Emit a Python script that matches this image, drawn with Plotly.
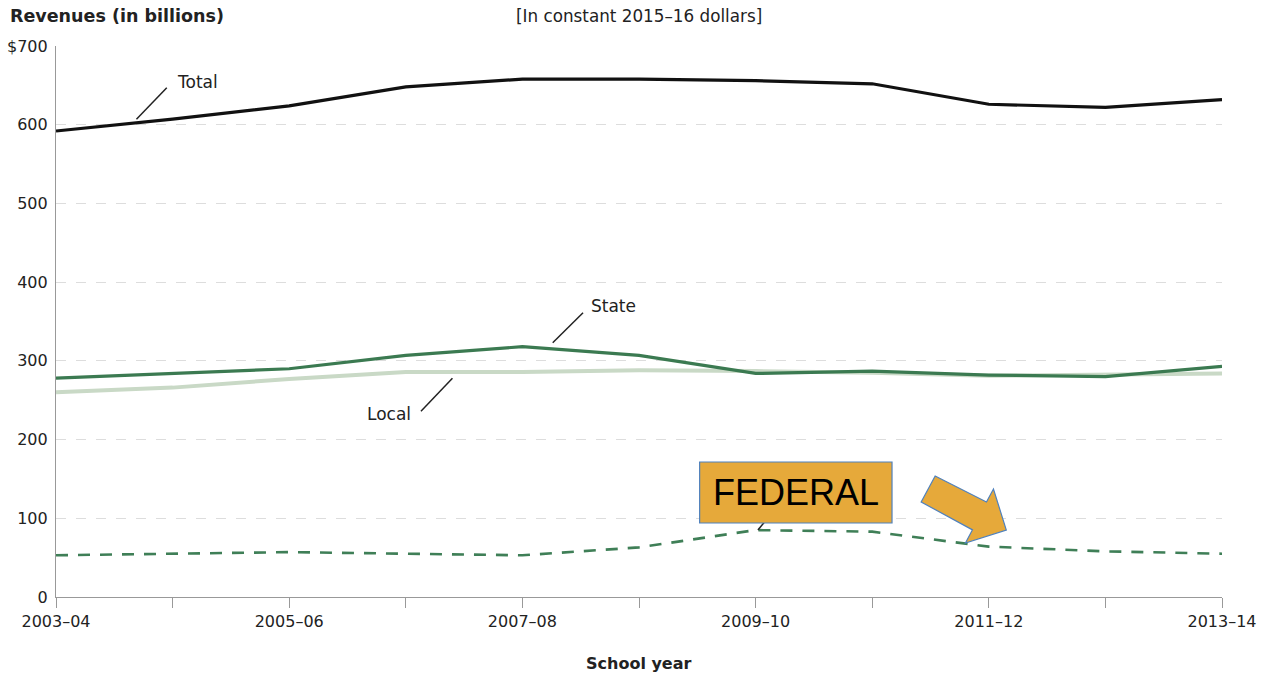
import plotly.graph_objects as go

# School years on the horizontal axis
years = ["2003–04", "2004–05", "2005–06", "2006–07", "2007–08", "2008–09",
         "2009–10", "2010–11", "2011–12", "2012–13", "2013–14"]

# Revenues, billions of constant 2015–16 dollars
total = [592, 607, 624, 648, 658, 658, 656, 652, 626, 622, 632]
state = [278, 284, 290, 307, 318, 307, 284, 287, 282, 280, 293]
local = [260, 266, 277, 286, 286, 288, 287, 285, 281, 282, 284]
federal = [53, 55, 57, 55, 53, 63, 85, 83, 64, 58, 55]

# Axis labels
y_ticks = [0, 100, 200, 300, 400, 500, 600, 700]
y_tick_text = ["0", "100", "200", "300", "400", "500", "600", "$700"]
x_tick_text = [y if i % 2 == 0 else "" for i, y in enumerate(years)]

FONT = "'DejaVu Sans', sans-serif"
TEXT = "#222222"

fig = go.Figure()

fig.add_trace(go.Scatter(x=years, y=local, mode="lines",
                         line=dict(color="#c9d9c6", width=4), hoverinfo="skip"))
fig.add_trace(go.Scatter(x=years, y=state, mode="lines",
                         line=dict(color="#3b7a51", width=3.2), hoverinfo="skip"))
fig.add_trace(go.Scatter(x=years, y=federal, mode="lines",
                         line=dict(color="#3f7f57", width=2.6, dash="12px,10px"),
                         hoverinfo="skip"))
fig.add_trace(go.Scatter(x=years, y=total, mode="lines",
                         line=dict(color="#111111", width=3.2), hoverinfo="skip"))

shapes = []
# leader lines for the series labels
for x0, y0, x1, y1 in [(0.69, 607, 0.95, 647),
                       (4.26, 323, 4.52, 361),
                       (3.13, 236, 3.40, 278),
                       (6.02, 85, 6.08, 96)]:
    shapes.append(dict(type="line", xref="x", yref="y", x0=x0, y0=y0, x1=x1, y1=y1,
                       line=dict(color="#222222", width=1.5), layer="above"))

# highlight box for the federal series
shapes.append(dict(type="rect", xref="x", yref="y", x0=5.52, x1=7.17, y0=94, y1=171.5,
                   fillcolor="#e6a93a", line=dict(color="#4f81bd", width=1.2),
                   layer="above"))

# block arrow pointing down-right
arrow = [(7.54, 153.7), (7.98, 120.7), (8.04, 137.2), (8.15, 85.1),
         (7.80, 68.6), (7.86, 85.3), (7.42, 120.7)]
path = "M " + " L ".join(f"{x},{y}" for x, y in arrow) + " Z"
shapes.append(dict(type="path", xref="x", yref="y", path=path,
                   fillcolor="#e6a93a", line=dict(color="#4f81bd", width=1.2),
                   layer="above"))

annotations = [
    dict(x=1.02, y=654, xref="x", yref="y", text="Total", showarrow=False,
         xanchor="left", yanchor="middle", font=dict(family=FONT, size=17, color=TEXT)),
    dict(x=4.57, y=370, xref="x", yref="y", text="State", showarrow=False,
         xanchor="left", yanchor="middle", font=dict(family=FONT, size=17, color=TEXT)),
    dict(x=3.06, y=232, xref="x", yref="y", text="Local", showarrow=False,
         xanchor="right", yanchor="middle", font=dict(family=FONT, size=17, color=TEXT)),
    dict(x=6.345, y=133, xref="x", yref="y", text="FEDERAL", showarrow=False,
         xanchor="center", yanchor="middle",
         font=dict(family="'Liberation Sans', Arial, sans-serif", size=36, color="#000000")),
    dict(x=-0.041, y=1.054, xref="paper", yref="paper", text="<b>Revenues (in billions)</b>",
         showarrow=False, xanchor="left", yanchor="middle",
         font=dict(family=FONT, size=17.5, color=TEXT)),
    dict(x=0.5, y=1.054, xref="paper", yref="paper", text="[In constant 2015–16 dollars]",
         showarrow=False, xanchor="center", yanchor="middle",
         font=dict(family=FONT, size=16.8, color=TEXT)),
    dict(x=0.5, y=-0.12, xref="paper", yref="paper", text="<b>School year</b>",
         showarrow=False, xanchor="center", yanchor="middle",
         font=dict(family=FONT, size=16, color=TEXT)),
]

fig.update_layout(
    width=1272, height=677,
    margin=dict(l=56, r=50, t=46, b=80),
    paper_bgcolor="white", plot_bgcolor="white",
    showlegend=False,
    shapes=shapes, annotations=annotations,
    font=dict(family=FONT, size=16, color=TEXT),
)

fig.update_xaxes(
    type="category", range=[0, 10], automargin=False,
    tickmode="array", tickvals=years, ticktext=x_tick_text,
    ticks="outside", ticklen=10, tickcolor="#999999", tickwidth=1,
    showline=True, linecolor="#999999", linewidth=1.2,
    showgrid=False, zeroline=False,
    tickfont=dict(family=FONT, size=16, color=TEXT),
)

fig.update_yaxes(
    range=[0, 700], automargin=False,
    tickmode="array", tickvals=y_ticks, ticktext=y_tick_text,
    ticks="", ticklabelstandoff=4,
    showline=True, linecolor="#999999", linewidth=1.2,
    showgrid=True, gridcolor="#dddddd", griddash="10px,10px", gridwidth=1,
    zeroline=False,
    tickfont=dict(family=FONT, size=16, color=TEXT),
)

fig.write_html("out.html")
